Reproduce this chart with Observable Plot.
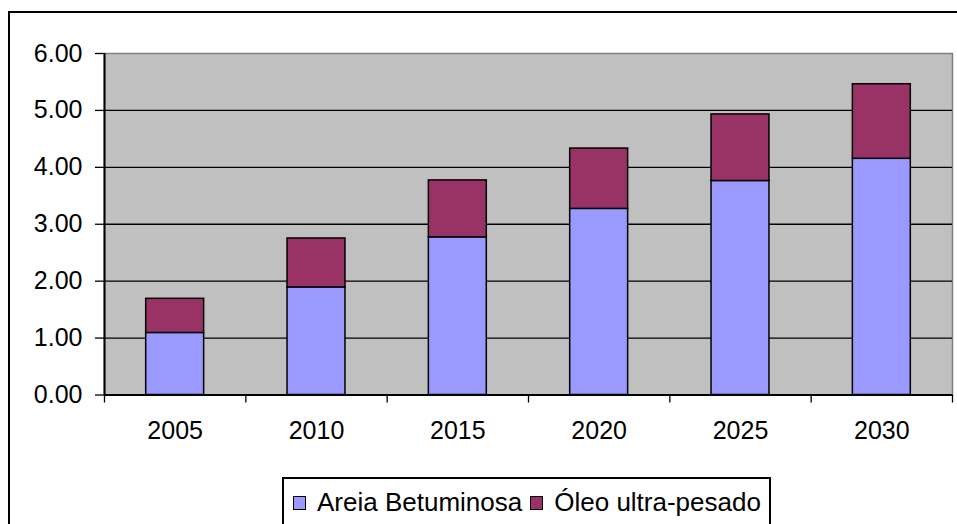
<!DOCTYPE html>
<html>
<head>
<meta charset="utf-8">
<script src="https://cdn.jsdelivr.net/npm/d3@7"></script>
<script src="https://cdn.jsdelivr.net/npm/@observablehq/plot@0.6"></script>
<style>
  html, body { margin: 0; padding: 0; background: #fff; }
  #wrap { position: relative; width: 957px; height: 524px; overflow: hidden; background: #fff;
          font-family: "Liberation Sans", Arial, sans-serif; }
  #border { position: absolute; left: 8px; top: 11px; width: 980px; height: 560px;
            border: 2px solid #000; box-sizing: border-box; }
  #chart { position: absolute; left: 0; top: 0; }
  #legend { position: absolute; left: 282px; top: 477px; width: 489px; height: 70px;
            border: 2px solid #000; box-sizing: border-box; background: #fff;
            display: flex; align-items: flex-start; padding-left: 9px; padding-top: 8px;
            font-size: 26px; color: #000; white-space: nowrap; }
  .item { display: flex; align-items: center; margin-right: 8px; }
  .sw { width: 11px; height: 12px; border: 1px solid #000; margin-right: 11px; }
</style>
</head>
<body>
<div id="wrap">
  <div id="border"></div>
  <div id="chart"></div>
  <div id="legend"></div>
</div>
<script>
const years = ["2005", "2010", "2015", "2020", "2025", "2030"];
const areiaBetuminosa = [1.09, 1.89, 2.77, 3.27, 3.76, 4.15];
const oleoUltraPesado = [0.60, 0.86, 1.00, 1.06, 1.17, 1.31];
const seriesNames = ["Areia Betuminosa", "Óleo ultra-pesado"];
const seriesColors = ["#9999FF", "#993366"];
const yTicks = [0, 1, 2, 3, 4, 5, 6];

const barFrac = 0.41;
const rows = [];
years.forEach((yr, i) => {
  const a = areiaBetuminosa[i], o = oleoUltraPesado[i];
  rows.push({i, year: yr, series: seriesNames[0], y1: 0, y2: a});
  rows.push({i, year: yr, series: seriesNames[1], y1: a, y2: a + o});
});

const plot = Plot.plot({
  width: 957,
  height: 470,
  marginLeft: 104,
  marginRight: 5,
  marginTop: 53,
  marginBottom: 75.5,
  style: { fontFamily: "'Liberation Sans', Arial, sans-serif", fontSize: "25px", color: "#000", background: "transparent" },
  x: { type: "linear", domain: [0, years.length], axis: null },
  y: { domain: [0, 6], axis: null },
  color: { domain: seriesNames, range: seriesColors },
  marks: [
    Plot.frame({ fill: "#C0C0C0", stroke: "#808080", strokeWidth: 1.5 }),
    Plot.ruleY(yTicks.filter(v => v > 0 && v < 6), { stroke: "#000", strokeWidth: 1.3 }),
    Plot.rectY(rows, {
      x1: d => d.i + (1 - barFrac) / 2,
      x2: d => d.i + (1 + barFrac) / 2,
      y1: "y1", y2: "y2",
      fill: "series",
      stroke: "#000", strokeWidth: 1.5
    }),
    Plot.axisY({ ticks: yTicks, tickFormat: d => d.toFixed(2), tickSize: 9, tickPadding: 13,
                 stroke: "#000", fill: "#000", fontSize: 25, strokeWidth: 1.3 }),
    Plot.axisX({ ticks: d3.range(0, years.length + 1), tickFormat: () => "", tickSize: 8,
                 stroke: "#000", strokeWidth: 1.3 }),
    Plot.axisX({ ticks: years.map((_, i) => i + 0.5), tickFormat: (v) => years[Math.floor(v)],
                 tickSize: 0, tickPadding: 26, fill: "#000", fontSize: 25 }),
    Plot.ruleX([0], { stroke: "#000", strokeWidth: 2 }),
    Plot.ruleY([0], { stroke: "#000", strokeWidth: 2 })
  ]
});
document.getElementById("chart").appendChild(plot);

const legend = document.getElementById("legend");
seriesNames.forEach((name, k) => {
  const item = document.createElement("div");
  item.className = "item";
  const sw = document.createElement("span");
  sw.className = "sw";
  sw.style.background = seriesColors[k];
  const lab = document.createElement("span");
  lab.textContent = name;
  item.appendChild(sw);
  item.appendChild(lab);
  legend.appendChild(item);
});
</script>
</body>
</html>
